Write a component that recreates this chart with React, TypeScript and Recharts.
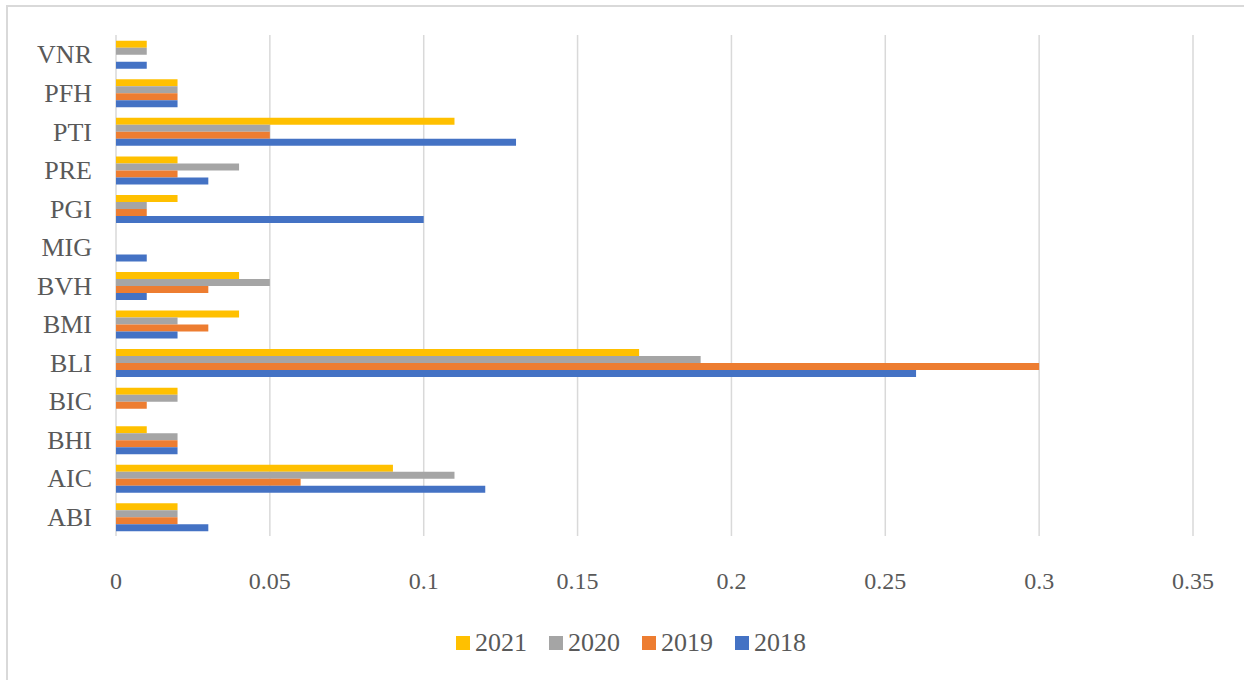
import { BarChart, Bar, XAxis, YAxis, CartesianGrid } from 'recharts';

const CATEGORIES = ['ABI', 'AIC', 'BHI', 'BIC', 'BLI', 'BMI', 'BVH', 'MIG', 'PGI', 'PRE', 'PTI', 'PFH', 'VNR'];
const Y2018 = [0.03, 0.12, 0.02, 0, 0.26, 0.02, 0.01, 0.01, 0.1, 0.03, 0.13, 0.02, 0.01];
const Y2019 = [0.02, 0.06, 0.02, 0.01, 0.3, 0.03, 0.03, 0, 0.01, 0.02, 0.05, 0.02, 0];
const Y2020 = [0.02, 0.11, 0.02, 0.02, 0.19, 0.02, 0.05, 0, 0.01, 0.04, 0.05, 0.02, 0.01];
const Y2021 = [0.02, 0.09, 0.01, 0.02, 0.17, 0.04, 0.04, 0, 0.02, 0.02, 0.11, 0.02, 0.01];
const X_TICKS = [0, 0.05, 0.1, 0.15, 0.2, 0.25, 0.3, 0.35];

const SERIES = [
  { key: 'y2021', name: '2021', color: '#FFC000' },
  { key: 'y2020', name: '2020', color: '#A5A5A5' },
  { key: 'y2019', name: '2019', color: '#ED7D31' },
  { key: 'y2018', name: '2018', color: '#4472C4' },
];

const data = CATEGORIES.map((name, i) => ({
  name,
  y2018: Y2018[i],
  y2019: Y2019[i],
  y2020: Y2020[i],
  y2021: Y2021[i],
}));

const FONT = '"Liberation Serif", "Times New Roman", serif';
const TEXT = '#595959';

export default function App() {
  return (
    <div style={{ position: 'absolute', left: 0, top: 0, width: 1244, height: 680, background: '#fff', overflow: 'hidden' }}>
      <div style={{ position: 'absolute', left: 6, top: 5, width: 1250, height: 700, border: '2px solid #d9d9d9' }} />
      <BarChart
        width={1244}
        height={680}
        data={data}
        layout="vertical"
        margin={{ top: 35, right: 51, bottom: 84, left: 0 }}
        barCategoryGap="15%"
        barGap={0}
        style={{ position: 'absolute', left: 0, top: 0 }}
      >
        <CartesianGrid horizontal={false} stroke="#d9d9d9" strokeWidth={1.5} />
        <XAxis
          type="number"
          domain={[0, 0.35]}
          ticks={X_TICKS}
          axisLine={false}
          tickLine={false}
          tickMargin={30}
          height={60}
          tick={{ fontSize: 24, fill: TEXT, fontFamily: FONT }}
        />
        <YAxis
          type="category"
          dataKey="name"
          reversed
          width={116}
          axisLine={false}
          tickLine={false}
          tickMargin={18}
          tick={{ fontSize: 26, fill: TEXT, fontFamily: FONT }}
        />
        {SERIES.map((s) => (
          <Bar key={s.key} dataKey={s.key} name={s.name} fill={s.color} isAnimationActive={false} />
        ))}
      </BarChart>
      {/* legend */}
      <div
        style={{
          position: 'absolute', left: 456, top: 628, display: 'flex',
          fontFamily: FONT, fontSize: 26, color: TEXT, lineHeight: '30px',
        }}
      >
        {SERIES.map((s) => (
          <div key={s.key} style={{ display: 'flex', alignItems: 'center', width: 93 }}>
            <span style={{ display: 'inline-block', width: 14, height: 14, background: s.color, marginRight: 5 }} />
            <span>{s.name}</span>
          </div>
        ))}
      </div>
    </div>
  );
}
